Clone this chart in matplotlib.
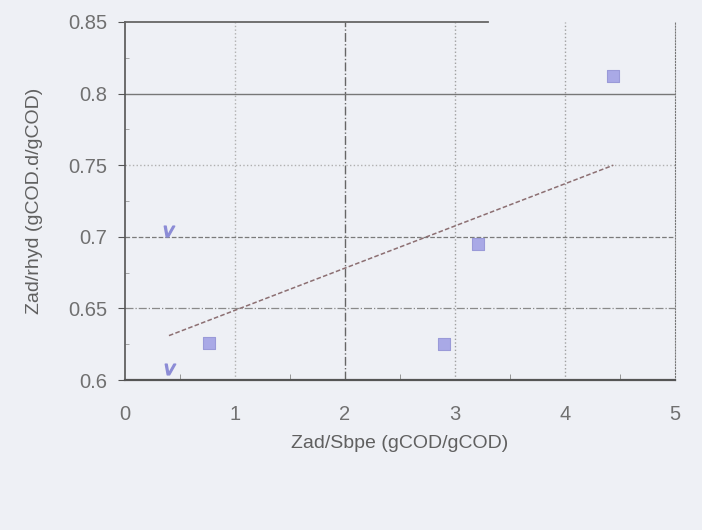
import matplotlib
matplotlib.use("Agg")
import matplotlib.pyplot as plt
from matplotlib.ticker import MultipleLocator

# Data
sq_x = [0.76, 2.90, 3.21, 4.44]
sq_y = [0.626, 0.625, 0.695, 0.812]
small_x = [0.41, 0.40]
small_y = [0.608, 0.704]
trend_x = [0.40, 4.44]
trend_y = [0.631, 0.750]

x_ticks = [0, 1, 2, 3, 4, 5]
y_ticks = [0.6, 0.65, 0.7, 0.75, 0.8, 0.85]
y_labels = ["0.6", "0.65", "0.7", "0.75", "0.8", "0.85"]

plt.rcParams['font.family'] = ['Liberation Sans', 'DejaVu Sans']

fig = plt.figure(figsize=(7.02, 5.30), dpi=100, facecolor="#eef0f5")
ax = fig.add_axes([0.178, 0.283, 0.7835, 0.6755])
ax.set_facecolor("#eef0f5")

ax.set_xlim(0, 5)
ax.set_ylim(0.6, 0.85)
ax.set_xticks(x_ticks)
ax.set_xticklabels([str(v) for v in x_ticks])
ax.set_yticks(y_ticks)
ax.set_yticklabels(y_labels)
ax.xaxis.set_minor_locator(MultipleLocator(0.5))
ax.yaxis.set_minor_locator(MultipleLocator(0.025))

ax.tick_params(axis="both", labelsize=14.5, colors="#555555", labelcolor="#707070")
ax.tick_params(axis="y", which="major", direction="out", length=5, pad=8)
ax.tick_params(axis="y", which="minor", direction="in", length=3, color="#999999")
ax.tick_params(axis="x", which="major", direction="out", length=0, pad=18)
ax.tick_params(axis="x", which="minor", direction="in", length=4, color="#888888")

# Grid lines with scanned look
ax.grid(True, axis="both", which="major")
ystyles = {0.65: ("-.", "#8a8a8a", 0.9), 0.7: ("--", "#7a7a7a", 0.9),
           0.75: (":", "#b0b0b0", 1.0), 0.8: ("-", "#777777", 1.0)}
for val, gl in zip(y_ticks, ax.get_ygridlines()):
    key = round(val, 2)
    if key in ystyles:
        ls, c, lw = ystyles[key]
        gl.set_linestyle(ls); gl.set_color(c); gl.set_linewidth(lw)
    else:
        gl.set_visible(False)
xstyles = {1: (":", "#b0b0b0", 1.0), 2: ("-.", "#666666", 1.0),
           3: (":", "#a0a0a0", 1.0), 4: (":", "#a0a0a0", 1.0)}
for val, gl in zip(x_ticks, ax.get_xgridlines()):
    if val in xstyles:
        ls, c, lw = xstyles[val]
        gl.set_linestyle(ls); gl.set_color(c); gl.set_linewidth(lw)
    else:
        gl.set_visible(False)

ax.spines["left"].set_color("#555555")
ax.spines["left"].set_linewidth(1.2)
ax.spines["bottom"].set_color("#555555")
ax.spines["bottom"].set_linewidth(1.6)
ax.spines["top"].set_color("#666666")
ax.spines["top"].set_linewidth(1.3)
ax.spines["top"].set_bounds(0, 3.3)
ax.spines["right"].set_color("#777777")
ax.spines["right"].set_linestyle(":")

# Trend line
ax.plot(trend_x, trend_y, linestyle="--", color="#8c6f72", linewidth=1.1,
        dashes=(3, 1.5), zorder=3)

# Markers
ax.scatter(sq_x, sq_y, marker="s", s=75, color="#a9a9e6", edgecolor="#9a9ad8",
           linewidths=0.8, zorder=4)
ax.scatter(small_x, small_y, marker="$v$", s=60, color="#8c8cd6", zorder=4)

ax.set_xlabel("Zad/Sbpe (gCOD/gCOD)", fontsize=14, color="#606060", labelpad=8)
ax.set_ylabel("Zad/rhyd (gCOD.d/gCOD)", fontsize=14, color="#606060", labelpad=18)

fig.savefig("out.png", dpi=100, facecolor=fig.get_facecolor())
